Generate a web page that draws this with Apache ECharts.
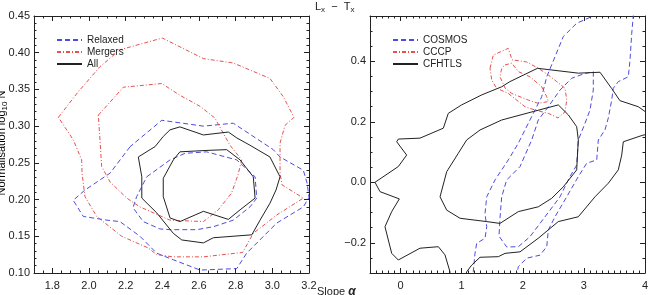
<!DOCTYPE html>
<html>
<head>
<meta charset="utf-8">
<title>Lx - Tx</title>
<script src="https://cdn.jsdelivr.net/npm/echarts@6/dist/echarts.min.js"></script>
<style>
  html, body { margin: 0; padding: 0; background: #fff; }
  #chart { width: 649px; height: 295px; }
</style>
</head>
<body>
<div id="chart"></div>
<script>
// ---- left panel: normalisation vs slope (contours) ----
const relaxedOuter = [[2.224,0.272],[2.115,0.236],[1.978,0.213],[1.914,0.199],[1.969,0.177],[2.097,0.172],[2.169,0.170],[2.278,0.150],[2.369,0.127],[2.46,0.118],[2.606,0.104],[2.806,0.106],[2.86,0.127],[3.024,0.168],[3.169,0.190],[3.2,0.203],[3.19,0.222],[3.169,0.240],[3.042,0.258],[3.005,0.268],[2.787,0.304],[2.624,0.300],[2.397,0.308],[2.224,0.272]]
const relaxedInner = [[2.315,0.231],[2.442,0.254],[2.524,0.263],[2.642,0.265],[2.806,0.254],[2.906,0.231],[2.915,0.202],[2.878,0.190],[2.787,0.172],[2.678,0.163],[2.588,0.159],[2.442,0.159],[2.387,0.160],[2.296,0.170],[2.24,0.189],[2.26,0.204],[2.315,0.231]]
const mergersOuter = [[1.833,0.312],[1.942,0.347],[2.06,0.381],[2.169,0.404],[2.40,0.420],[2.624,0.392],[2.787,0.386],[2.987,0.365],[3.06,0.340],[3.118,0.312],[3.069,0.301],[3.042,0.277],[3.042,0.236],[3.053,0.220],[3.169,0.202],[3.024,0.179],[2.896,0.154],[2.838,0.128],[2.624,0.122],[2.458,0.122],[2.369,0.125],[2.324,0.134],[2.178,0.150],[2.042,0.177],[1.978,0.204],[1.962,0.236],[1.96,0.254],[1.915,0.281],[1.833,0.312]]
const mergersInner = [[2.051,0.315],[2.187,0.353],[2.397,0.358],[2.496,0.342],[2.606,0.327],[2.687,0.311],[2.742,0.286],[2.769,0.274],[2.833,0.254],[2.813,0.234],[2.778,0.209],[2.705,0.186],[2.624,0.170],[2.442,0.172],[2.278,0.190],[2.206,0.202],[2.115,0.224],[2.069,0.245],[2.06,0.281],[2.051,0.315]]
const allOuter = [[2.269,0.258],[2.333,0.268],[2.36,0.272],[2.405,0.286],[2.442,0.295],[2.496,0.299],[2.624,0.288],[2.76,0.292],[2.806,0.284],[2.878,0.274],[2.987,0.258],[3.042,0.231],[3.02,0.213],[2.987,0.195],[2.933,0.172],[2.888,0.152],[2.678,0.148],[2.624,0.141],[2.506,0.145],[2.46,0.154],[2.369,0.182],[2.288,0.202],[2.288,0.231],[2.269,0.258]]
const allInner = [[2.405,0.229],[2.46,0.254],[2.496,0.265],[2.649,0.267],[2.751,0.268],[2.824,0.254],[2.896,0.231],[2.906,0.202],[2.824,0.186],[2.76,0.173],[2.624,0.184],[2.496,0.170],[2.442,0.175],[2.405,0.204],[2.405,0.229]]

// ---- right panel: L-T relation, the open contours run past the frame and get clipped ----
const cosmosOuter = [[3.128,0.57],[3.128,0.548],[2.882,0.526],[2.663,0.482],[2.527,0.415],[2.392,0.349],[2.31,0.283],[2.20,0.239],[2.09,0.195],[1.927,0.129],[1.763,0.074],[1.655,0.041],[1.546,0.008],[1.41,-0.048],[1.382,-0.103],[1.41,-0.147],[1.382,-0.185],[1.246,-0.202],[1.218,-0.235],[1.19,-0.296],[1.17,-0.33],[1.90,-0.33],[1.90,-0.307],[1.927,-0.279],[2.064,-0.251],[2.282,-0.241],[2.392,-0.213],[2.418,-0.158],[2.527,-0.114],[2.719,-0.048],[2.909,0.019],[3.046,0.063],[3.21,0.074],[3.236,0.14],[3.345,0.173],[3.40,0.213],[3.455,0.272],[3.481,0.311],[3.563,0.333],[3.727,0.349],[3.755,0.405],[3.783,0.493],[3.809,0.553],[3.82,0.57]]
const cosmosInner = [[3.154,0.366],[3.154,0.305],[3.10,0.239],[3.018,0.195],[2.909,0.14],[2.882,0.057],[2.773,0.019],[2.609,-0.048],[2.446,-0.092],[2.282,-0.136],[2.118,-0.180],[1.927,-0.213],[1.737,-0.214],[1.611,-0.178],[1.627,-0.118],[1.655,-0.048],[1.737,0.008],[1.955,0.052],[2.146,0.14],[2.254,0.206],[2.418,0.25],[2.609,0.305],[2.80,0.344],[2.986,0.358],[3.154,0.366]]
const cccpOuter = [[1.464,0.377],[1.518,0.421],[1.763,0.443],[1.824,0.405],[2.064,0.398],[2.254,0.377],[2.418,0.355],[2.555,0.333],[2.691,0.311],[2.719,0.272],[2.691,0.233],[2.576,0.213],[2.418,0.228],[2.20,0.239],[2.036,0.25],[1.763,0.294],[1.573,0.311],[1.492,0.338],[1.464,0.377]]
const cccpInner = [[1.709,0.388],[1.819,0.394],[1.927,0.366],[2.118,0.349],[2.31,0.316],[2.392,0.283],[2.418,0.267],[2.254,0.261],[2.09,0.272],[1.819,0.294],[1.709,0.312],[1.627,0.349],[1.655,0.377],[1.709,0.388]]
const cfhtlsOuter = [[0.80,-0.32],[0.809,-0.296],[0.727,-0.240],[0.618,-0.213],[0.318,-0.218],[-0.037,-0.257],[-0.145,-0.235],[-0.255,-0.147],[-0.145,-0.097],[-0.02,-0.055],[-0.336,-0.031],[-0.418,0.0],[-0.037,0.052],[0.10,0.090],[-0.063,0.134],[-0.037,0.143],[0.318,0.146],[0.70,0.179],[0.781,0.228],[1.0,0.256],[1.328,0.289],[1.655,0.316],[1.79,0.333],[2.24,0.377],[2.909,0.361],[3.264,0.364],[3.455,0.31],[3.59,0.27],[3.89,0.25],[4.1,0.22],[4.1,0.16],[3.967,0.156],[3.645,0.134],[3.619,0.090],[3.563,0.041],[3.40,-0.003],[3.182,-0.048],[2.909,-0.114],[2.581,-0.130],[2.254,-0.185],[1.955,-0.230],[1.709,-0.235],[1.60,-0.246],[1.30,-0.248],[1.164,-0.274],[1.082,-0.296],[1.05,-0.32]]
const cfhtlsInner = [[0.755,0.035],[0.646,-0.048],[0.755,-0.092],[0.973,-0.119],[1.41,-0.130],[1.627,-0.136],[1.927,-0.097],[2.254,-0.081],[2.473,-0.053],[2.663,-0.015],[2.882,0.041],[2.909,0.140],[2.882,0.184],[2.745,0.223],[2.581,0.256],[2.172,0.234],[1.655,0.206],[1.30,0.173],[1.082,0.140],[0.945,0.096],[0.755,0.035]]

// tick labels
const leftXTicks = [1.8, 2.0, 2.2, 2.4, 2.6, 2.8, 3.0, 3.2]
const leftYTicks = [0.10, 0.15, 0.20, 0.25, 0.30, 0.35, 0.40, 0.45]
const rightXTicks = [0, 1, 2, 3, 4]
const rightYTicks = [-0.2, 0.0, 0.2, 0.4]

const FONT = 'Liberation Sans, Arial, sans-serif'
const INK = '#222'
const BLUE = '#4b4be0'
const RED = '#e5524f'
const DASH = [5, 3]
const DASHDOT = [4, 2, 1, 2]

// a framed axis pair: major ticks + labels on one side, mirrored ticks on the other (IDL style)
function boxAxes (grid, min, max, step, majors, fmt, horizontal) {
  const sides = horizontal ? ['bottom', 'top'] : ['left', 'right']
  const out = []
  sides.forEach((pos, i) => {
    out.push({
      type: 'value', gridIndex: grid, position: pos, min: min, max: max,
      splitLine: { show: false },
      axisLine: { show: true, onZero: false, lineStyle: { color: INK, width: 1 } },
      axisTick: { show: true, inside: true, length: 5, customValues: majors, lineStyle: { color: INK } },
      axisLabel: { show: i === 0, customValues: majors, formatter: fmt, margin: horizontal ? 7 : 4,
        color: INK, fontSize: 11, fontFamily: FONT }
    })
    // minor ticks
    out.push({
      type: 'value', gridIndex: grid, position: pos, min: min, max: max, interval: step,
      splitLine: { show: false },
      axisLine: { show: false, onZero: false },
      axisTick: { show: true, inside: true, length: 2.5, lineStyle: { color: INK } },
      axisLabel: { show: false }
    })
  })
  return out
}

const minusFmt = (v) => (v < 0 ? '\u2212' : '') + Math.abs(v).toFixed(1)

const xAxes = [].concat(
  boxAxes(0, 1.7, 3.2, 0.05, leftXTicks, (v) => v.toFixed(1), true),
  boxAxes(1, -0.5, 4, 0.1, rightXTicks, (v) => String(Math.round(v)), true)
)
const yAxes = [].concat(
  boxAxes(0, 0.10, 0.45, 0.01, leftYTicks, (v) => v.toFixed(2), false),
  boxAxes(1, -0.3, 0.55, 0.05, rightYTicks, minusFmt, false)
)

function contour (name, data, panel, color, type) {
  return {
    type: 'line', name: name, data: data,
    xAxisIndex: panel * 4, yAxisIndex: panel * 4,
    symbol: 'none', showSymbol: false, silent: true, clip: true,
    color: color,
    lineStyle: { color: color, width: 1, type: type }
  }
}

const subRich = {
  n: { fontSize: 11, lineHeight: 14, fontFamily: FONT, color: INK },
  s: { fontSize: 8, lineHeight: 6, verticalAlign: 'bottom', fontFamily: FONT, color: INK }
}

const legendBase = {
  orient: 'vertical', top: 30,
  itemWidth: 25, itemHeight: 10, itemGap: 2, selectedMode: false,
  itemStyle: { opacity: 0 }, // line only, no marker
  textStyle: { fontSize: 10, fontFamily: FONT, color: INK }
}

const chart = echarts.init(document.getElementById('chart'), null, { renderer: 'canvas' })
const option = {
  animation: false,
  backgroundColor: '#fff',
  title: [
    {
      text: '{n|L}{s|x}{n|  \u2212  T}{s|x}',
      left: 315, top: 0, padding: 0,
      textStyle: { fontWeight: 'normal', rich: subRich }
    },
    {
      text: 'Slope {g|\u03b1}',
      left: 317, top: 286, padding: 0,
      textStyle: {
        fontWeight: 'normal', fontSize: 11, fontFamily: FONT, color: INK,
        rich: { g: { fontSize: 12, fontStyle: 'italic', fontWeight: 'bold', fontFamily: FONT, color: INK } }
      }
    }
  ],
  // rotated y title of the left panel (sits half off the canvas edge, as in the original)
  graphic: [
    {
      type: 'text', x: 2, y: 143, rotation: Math.PI / 2,
      style: {
        text: '{n|Normalisation log}{s|10}{n| N}',
        align: 'center', verticalAlign: 'middle',
        rich: subRich
      }
    }
  ],
  grid: [
    { left: 34, top: 16, width: 275, height: 257, outerBoundsMode: 'none' },
    { left: 370, top: 16, width: 275, height: 257, outerBoundsMode: 'none' }
  ],
  legend: [
    Object.assign({ data: ['Relaxed', 'Mergers', 'All'], left: 51 }, legendBase),
    Object.assign({ data: ['COSMOS', 'CCCP', 'CFHTLS'], left: 387 }, legendBase)
  ],
  xAxis: xAxes,
  yAxis: yAxes,
  series: [
    contour('Relaxed', relaxedOuter, 0, BLUE, DASH),
    contour('Relaxed', relaxedInner, 0, BLUE, DASH),
    contour('Mergers', mergersOuter, 0, RED, DASHDOT),
    contour('Mergers', mergersInner, 0, RED, DASHDOT),
    contour('All', allOuter, 0, INK, 'solid'),
    contour('All', allInner, 0, INK, 'solid'),
    contour('COSMOS', cosmosOuter, 1, BLUE, DASH),
    contour('COSMOS', cosmosInner, 1, BLUE, DASH),
    contour('CCCP', cccpOuter, 1, RED, DASHDOT),
    contour('CCCP', cccpInner, 1, RED, DASHDOT),
    contour('CFHTLS', cfhtlsOuter, 1, INK, 'solid'),
    contour('CFHTLS', cfhtlsInner, 1, INK, 'solid')
  ]
}
chart.setOption(option)
</script>
</body>
</html>
